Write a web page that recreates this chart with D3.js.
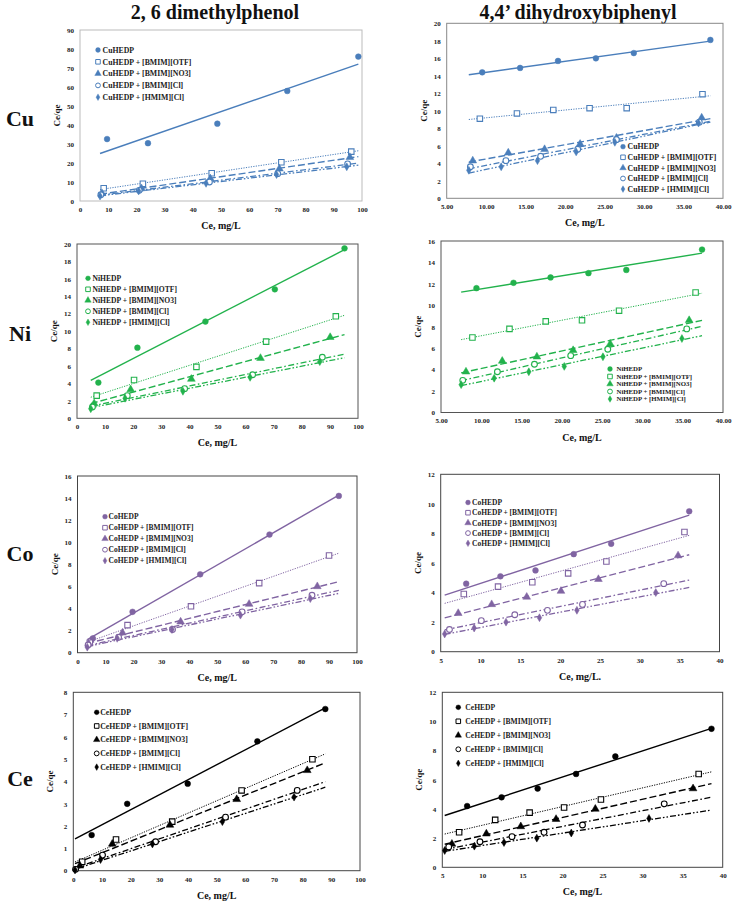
<!DOCTYPE html>
<html>
<head>
<meta charset="utf-8">
<script src="https://cdn.jsdelivr.net/npm/d3@7"></script>
<style>
  body { margin: 0; background: #fff; }
  svg { display: block; font-family: "Liberation Serif", "Times New Roman", serif; font-weight: bold; }
  .tick text { font-family: "Liberation Serif", "Times New Roman", serif; font-size: 7px; font-weight: bold; fill: #222; }
</style>
</head>
<body>
<svg id="fig" width="737" height="902"></svg>
<script>
// series order: HEDP, +[BMIM][OTF], +[BMIM][NO3], +[BMIM][Cl], +[HMIM][Cl]
const seriesSuffix = ['HEDP', 'HEDP + [BMIM][OTF]', 'HEDP + [BMIM][NO3]', 'HEDP + [BMIM][Cl]', 'HEDP + [HMIM][Cl]'];
const columnTitles = ['2, 6 dimethylphenol', '4,4\u2019 dihydroxybiphenyl'];
const metals = ['Cu', 'Ni', 'Co', 'Ce'];

// Cu, 2,6 dimethylphenol
const cuDmpX = [[9.6, 24.1, 48.7, 73.5, 98.7], [8.4, 22.3, 46.7, 71.4, 96.2], [7.8, 21.8, 46.2, 70.7, 95.7], [7.4, 21.0, 45.9, 70.1, 94.9], [7.1, 20.8, 44.7, 69.7, 94.6]];
const cuDmpY = [[32.6, 30.4, 40.7, 57.9, 76.0], [6.7, 9.1, 14.6, 20.4, 26.0], [4.0, 6.6, 11.8, 17.0, 23.0], [3.3, 5.6, 10.0, 14.4, 19.5], [2.6, 5.3, 9.3, 13.9, 18.0]];
// Cu, 4,4' dihydroxybiphenyl
const cuDhbX = [[9.5, 14.3, 19.1, 23.9, 28.7, 38.4], [9.2, 13.9, 18.5, 23.1, 27.8, 37.4], [8.3, 12.8, 17.4, 21.9, 26.5, 37.3], [8.0, 12.5, 16.9, 21.6, 26.5, 37.0], [7.8, 11.9, 16.5, 21.4, 26.3, 36.9]];
const cuDhbY = [[14.4, 14.9, 15.7, 16.0, 16.6, 18.1], [9.1, 9.7, 10.1, 10.3, 10.3, 11.9], [4.3, 5.2, 5.6, 6.2, 6.9, 9.2], [3.6, 4.3, 4.8, 5.6, 6.7, 8.7], [3.2, 3.6, 4.3, 5.3, 6.4, 8.6]];
// Ni
const niDmpX = [[7.6, 21.5, 45.7, 70.4, 95.2], [7.0, 20.3, 42.5, 67.3, 92.1], [6.1, 19.1, 40.7, 65.3, 90.1], [5.5, 17.9, 38.3, 62.5, 87.3], [4.9, 17.1, 37.7, 61.6, 86.4]];
const niDmpY = [[4.1, 8.1, 11.1, 14.8, 19.5], [2.6, 4.4, 5.9, 8.8, 11.7], [1.7, 3.3, 4.5, 6.9, 9.3], [1.3, 2.6, 3.4, 5.0, 7.0], [1.1, 2.3, 3.1, 4.7, 6.5]];
const niDhbX = [[9.4, 14.0, 18.6, 23.3, 28.0, 37.4], [8.9, 13.5, 18.0, 22.5, 27.1, 36.6], [8.1, 12.6, 16.9, 21.4, 26.0, 35.8], [7.7, 12.0, 16.6, 21.1, 25.7, 35.5], [7.5, 11.6, 15.9, 20.3, 25.1, 34.9]];
const niDhbY = [[11.6, 12.1, 12.6, 13.0, 13.3, 15.2], [7.0, 7.8, 8.5, 8.6, 9.5, 11.2], [3.8, 4.8, 5.2, 5.8, 6.4, 8.6], [3.0, 3.8, 4.5, 5.3, 5.9, 7.8], [2.6, 3.2, 3.8, 4.3, 5.2, 6.9]];
// Co
const coDmpX = [[5.5, 19.7, 43.9, 68.7, 93.5], [4.4, 17.9, 40.6, 65.0, 90.0], [4.0, 16.1, 36.9, 61.4, 85.8], [3.8, 14.7, 34.0, 58.9, 83.9], [3.5, 14.2, 33.8, 58.3, 83.3]];
const coDmpY = [[1.3, 3.7, 7.1, 10.7, 14.2], [0.9, 2.5, 4.2, 6.3, 8.8], [0.8, 1.8, 2.8, 4.4, 6.0], [0.7, 1.4, 2.1, 3.7, 5.2], [0.5, 1.3, 2.1, 3.4, 4.9]];
const coDhbX = [[8.2, 12.5, 16.9, 21.7, 26.4, 36.2], [7.9, 12.2, 16.5, 21.0, 25.8, 35.6], [7.2, 11.4, 15.8, 20.1, 24.8, 34.8], [6.1, 10.1, 14.3, 18.4, 22.8, 33.0], [5.5, 9.2, 13.2, 17.4, 22.1, 32.0]];
const coDhbY = [[4.6, 5.1, 5.5, 6.6, 7.3, 9.5], [3.9, 4.4, 4.7, 5.3, 6.1, 8.1], [2.6, 3.2, 3.7, 4.1, 4.9, 6.5], [1.5, 2.1, 2.5, 2.8, 3.2, 4.6], [1.2, 1.6, 2.0, 2.3, 2.8, 4.0]];
// Ce
const ceDmpX = [[6.4, 18.8, 39.9, 64.2, 87.9], [3.1, 14.9, 34.5, 58.7, 83.4], [2.3, 13.6, 33.7, 57.0, 81.6], [0.8, 10.2, 28.7, 53.1, 78.1], [0.6, 9.5, 27.6, 52.0, 77.0]];
const ceDmpY = [[1.6, 3.0, 3.9, 5.8, 7.25], [0.4, 1.4, 2.2, 3.6, 5.0], [0.22, 1.2, 2.05, 3.2, 4.5], [0.06, 0.7, 1.3, 2.4, 3.6], [0.03, 0.5, 1.2, 2.2, 3.3]];
const ceDhbX = [[8.1, 12.4, 16.9, 21.7, 26.6, 38.6], [7.1, 11.6, 15.9, 20.2, 24.8, 37.0], [6.2, 10.5, 14.8, 19.2, 24.1, 36.3], [5.8, 9.7, 13.7, 17.7, 22.5, 32.7], [5.3, 9.0, 12.7, 16.8, 21.1, 30.8]];
const ceDhbY = [[4.2, 4.8, 5.4, 6.4, 7.6, 9.5], [2.4, 3.25, 3.75, 4.1, 4.65, 6.4], [1.6, 2.3, 2.8, 3.3, 4.0, 5.4], [1.4, 1.75, 2.1, 2.4, 2.9, 4.35], [1.15, 1.45, 1.7, 2.0, 2.35, 3.35]];

// axis ranges and tick steps
const dmpXAxis = [0, 100, 10];
const dhbXAxis = [5, 40, 5];
const yAxes = { cuDmp: [0, 90, 10], cuDhb: [0, 20, 2], niDmp: [0, 20, 2], niDhb: [0, 16, 2],
                coDmp: [0, 16, 2], coDhb: [0, 12, 2], ceDmp: [0, 8, 1], ceDhb: [0, 12, 2] };

const metalColor = { Cu: '#4a7ebb', Ni: '#22b24c', Co: '#8064a2', Ce: '#000000' };

// layout: plot box [left, top, right, bottom], legend [x, y, rowGap, textOffset, fontSize]
const panels = [
  { metal: 'Cu', key: 'cuDmp', xs: cuDmpX, ys: cuDmpY, xa: dmpXAxis, fmt: 'd',   box: [80, 30, 362, 201],   legend: [98, 50, 11.8, 4.5, 7.8],  xt: 'Ce, mg/L', frame: '#bbb' },
  { metal: 'Cu', key: 'cuDhb', xs: cuDhbX, ys: cuDhbY, xa: dhbXAxis, fmt: '.2f', box: [446.7, 23.3, 723, 198.3], legend: [623, 146.7, 10.6, 4.5, 7.8], xt: 'Ce, mg/L', frame: '#888' },
  { metal: 'Ni', key: 'niDmp', xs: niDmpX, ys: niDmpY, xa: dmpXAxis, fmt: 'd',   box: [77, 244, 358, 418.3],  legend: [88, 278.3, 11, 4.5, 7.6], xt: 'Ce, mg/L', frame: '#555' },
  { metal: 'Ni', key: 'niDhb', xs: niDhbX, ys: niDhbY, xa: dhbXAxis, fmt: '.2f', box: [441, 241, 723, 412.5], legend: [610, 369, 7.5, 6.5, 6.8], xt: 'Ce, mg/L', frame: '#555' },
  { metal: 'Co', key: 'coDmp', xs: coDmpX, ys: coDmpY, xa: dmpXAxis, fmt: 'd',   box: [77.5, 476, 357, 652.7], legend: [105, 516.7, 11, 3.5, 7.5], xt: 'Ce, mg/L', frame: '#444' },
  { metal: 'Co', key: 'coDhb', xs: coDhbX, ys: coDhbY, xa: dhbXAxis, fmt: 'd',   box: [440.7, 474.3, 719.5, 651.7], legend: [468, 502.5, 10.2, 4, 7.5], xt: 'Ce, mg/L.', frame: '#444' },
  { metal: 'Ce', key: 'ceDmp', xs: ceDmpX, ys: ceDmpY, xa: dmpXAxis, fmt: 'd',   box: [73.3, 692.3, 360, 870.7], legend: [96.7, 712.3, 13.7, 3.5, 7.8], xt: 'Ce, mg/L', frame: '#444' },
  { metal: 'Ce', key: 'ceDhb', xs: ceDhbX, ys: ceDhbY, xa: dhbXAxis, fmt: 'd',   box: [442.3, 692.3, 722.7, 867.3], legend: [458.3, 707.3, 14, 7, 7.6], xt: 'Ce, mg/L', frame: '#444' }
];

const lineStyles = [
  { dash: null, w: 1.4 },
  { dash: '1.2,1.3', w: 1 },
  { dash: '7,3', w: 1.4 },
  { dash: '6,2.5,1.6,2.5', w: 1.3 },
  { dash: '6,2,1.6,2,1.6,2', w: 1.3 }
];
const markerTypes = [
  { sym: d3.symbolCircle, size: 26, open: false },
  { sym: d3.symbolSquare, size: 30, open: true },
  { sym: d3.symbolTriangle, size: 26, open: false },
  { sym: d3.symbolCircle, size: 26, open: true },
  { sym: d3.symbolDiamond, size: 18, open: false }
];

function fit(xs, ys) {
  const mx = d3.mean(xs), my = d3.mean(ys);
  const b = d3.sum(xs, (x, i) => (x - mx) * (ys[i] - my)) / d3.sum(xs, x => (x - mx) * (x - mx));
  return [b, my - b * mx];
}

const svg = d3.select('#fig');
svg.append('rect').attr('width', 737).attr('height', 902).attr('fill', '#fff');

// column titles
svg.selectAll('text.coltitle').data(columnTitles).join('text')
  .attr('class', 'coltitle')
  .attr('x', (d, i) => i ? 578 : 215).attr('y', 19)
  .attr('text-anchor', 'middle').attr('font-size', 20).attr('fill', '#111')
  .text(d => d);

// row labels
svg.selectAll('text.rowlab').data(metals).join('text')
  .attr('class', 'rowlab')
  .attr('x', 20).attr('y', (d, i) => [126, 341, 561, 786][i])
  .attr('text-anchor', 'middle').attr('font-size', 22).attr('fill', '#111')
  .text(d => d);

panels.forEach(p => {
  const col = metalColor[p.metal];
  const [l, t, r, b] = p.box;
  const ya = yAxes[p.key];
  const x = d3.scaleLinear().domain([p.xa[0], p.xa[1]]).range([l, r]);
  const y = d3.scaleLinear().domain([ya[0], ya[1]]).range([b, t]);
  const g = svg.append('g');

  g.append('rect').attr('x', l).attr('y', t).attr('width', r - l).attr('height', b - t)
    .attr('fill', 'none').attr('stroke', p.frame).attr('stroke-width', 1);

  const xAxis = d3.axisBottom(x)
    .tickValues(d3.range(p.xa[0], p.xa[1] + 1e-9, p.xa[2]))
    .tickSize(0).tickPadding(6).tickFormat(d3.format(p.fmt));
  g.append('g').attr('transform', `translate(0,${b})`).call(xAxis)
    .call(s => s.select('.domain').remove());

  const yAxis = d3.axisLeft(y)
    .tickValues(d3.range(ya[0], ya[1] + 1e-9, ya[2]))
    .tickSize(0).tickPadding(6).tickFormat(d3.format('d'));
  g.append('g').attr('transform', `translate(${l},0)`).call(yAxis)
    .call(s => s.select('.domain').remove());

  // axis titles
  g.append('text').attr('x', (l + r) / 2).attr('y', b + 28)
    .attr('text-anchor', 'middle').attr('font-size', 10).attr('fill', '#111').text(p.xt);
  g.append('text')
    .attr('transform', `translate(${l - 20},${(t + b) / 2}) rotate(-90)`)
    .attr('text-anchor', 'middle').attr('font-size', 9).attr('fill', '#111').text('Ce/qe');

  // trend lines over the panel's data range
  const lo = d3.min(p.xs.flat()), hi = d3.max(p.xs.flat());
  p.xs.forEach((xs, i) => {
    const [slope, icpt] = fit(xs, p.ys[i]);
    const st = lineStyles[i];
    g.append('line')
      .attr('x1', x(lo)).attr('y1', y(slope * lo + icpt))
      .attr('x2', x(hi)).attr('y2', y(slope * hi + icpt))
      .attr('stroke', col).attr('stroke-width', st.w)
      .attr('stroke-dasharray', st.dash);
  });

  // markers
  p.xs.forEach((xs, i) => {
    const m = markerTypes[i];
    const pts = xs.map((v, j) => [v, p.ys[i][j]]);
    g.append('g').selectAll('path').data(pts).join('path')
      .attr('transform', d => `translate(${x(d[0])},${y(d[1])})`)
      .attr('d', d3.symbol(m.sym, m.size))
      .attr('fill', m.open ? '#fff' : col)
      .attr('stroke', col).attr('stroke-width', m.open ? 1.1 : 0.5);
  });

  // legend
  const [lx, ly, gap, off, fs] = p.legend;
  const lg = g.append('g');
  seriesSuffix.forEach((s, i) => {
    const m = markerTypes[i];
    lg.append('path')
      .attr('transform', `translate(${lx},${ly + i * gap})`)
      .attr('d', d3.symbol(m.sym, m.size * 0.7))
      .attr('fill', m.open ? '#fff' : col)
      .attr('stroke', col).attr('stroke-width', m.open ? 1 : 0.4);
    lg.append('text')
      .attr('x', lx + off).attr('y', ly + i * gap + fs * 0.35)
      .attr('font-size', fs).attr('fill', '#222')
      .text(p.metal + s);
  });
});
</script>
</body>
</html>
